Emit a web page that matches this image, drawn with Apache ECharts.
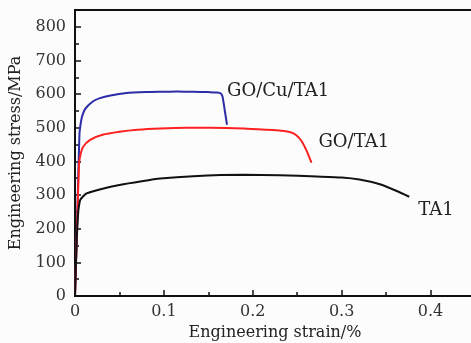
<!DOCTYPE html>
<html>
<head>
<meta charset="utf-8">
<script src="https://cdn.jsdelivr.net/npm/echarts@6/dist/echarts.min.js"></script>
<style>
  html, body { margin: 0; padding: 0; background: #fcfcfc; }
  #chart { width: 471px; height: 343px; }
</style>
</head>
<body>
<div id="chart"></div>
<script>
// strain (%) and stress (MPa)
var cuStrain = [0, 0.0026, 0.005, 0.007, 0.009, 0.012, 0.02, 0.028, 0.04, 0.058, 0.08, 0.096, 0.115, 0.133, 0.15, 0.16, 0.164, 0.166, 0.168, 0.171];
var cuStress = [0, 247, 480, 522, 542, 558, 578, 588, 596, 603, 606, 607, 608, 607, 606, 605, 602, 592, 560, 509];

var goStrain = [0, 0.0025, 0.0045, 0.006, 0.009, 0.017, 0.031, 0.05, 0.07, 0.096, 0.125, 0.152, 0.19, 0.216, 0.232, 0.242, 0.249, 0.255, 0.261, 0.266];
var goStress = [0, 220, 390, 418, 443, 464, 479, 488, 494, 498, 500, 500, 498, 494, 491, 487, 478, 460, 429, 396];

var taStrain = [0, 0.002, 0.0035, 0.0045, 0.006, 0.013, 0.031, 0.05, 0.075, 0.096, 0.133, 0.189, 0.23, 0.272, 0.3, 0.32, 0.343, 0.362, 0.376];
var taStress = [0, 170, 245, 268, 286, 305, 319, 330, 341, 349, 356, 360, 359, 355, 352, 346, 332, 312, 295];

var names = ['GO/Cu/TA1', 'GO/TA1', 'TA1'];
var colors = ['#2c2ca6', '#ff2020', '#111111'];

function pairs(xs, ys) {
  return xs.map(function (x, i) { return [x, ys[i]]; });
}

var font = 'DejaVu Serif';
var dom = document.getElementById('chart');
var myChart = echarts.init(dom, null, { renderer: 'canvas' });

var labelOffsets = [[-8, -33], [-1, -20], [1, 14]];
var allData = [pairs(cuStrain, cuStress), pairs(goStrain, goStress), pairs(taStrain, taStress)];

var option = {
  backgroundColor: '#fcfcfc',
  animation: false,
  grid: {
    left: 75, top: 10, right: -4, bottom: 47,
    show: true, borderColor: '#111', borderWidth: 2,
    outerBoundsMode: 'none'
  },
  xAxis: {
    type: 'value',
    min: 0, max: 0.45, interval: 0.1,
    name: 'Engineering strain/%',
    nameLocation: 'middle',
    nameGap: 29,
    nameTextStyle: { fontFamily: font, fontSize: 16, color: '#222' },
    axisLine: { lineStyle: { color: '#111', width: 2 } },
    axisTick: { inside: true, length: 6, lineStyle: { color: '#111', width: 1.5 } },
    minorTick: { show: true, splitNumber: 2, length: 4, lineStyle: { color: '#111', width: 1.5 } },
    axisLabel: { fontFamily: font, fontSize: 16, color: '#333', margin: 8, showMaxLabel: false },
    splitLine: { show: false }
  },
  yAxis: {
    type: 'value',
    min: 0, max: 850, interval: 100,
    name: 'Engineering stress/MPa',
    nameLocation: 'middle',
    nameGap: 51,
    nameTextStyle: { fontFamily: font, fontSize: 16, color: '#222' },
    axisLine: { lineStyle: { color: '#111', width: 2 } },
    axisTick: { inside: true, length: 6, lineStyle: { color: '#111', width: 1.5 } },
    minorTick: { show: true, splitNumber: 2, length: 4, lineStyle: { color: '#111', width: 1.5 } },
    axisLabel: { fontFamily: font, fontSize: 16, color: '#333', margin: 9, showMaxLabel: false },
    splitLine: { show: false }
  },
  series: names.map(function (n, i) {
    return {
      name: n,
      type: 'line',
      data: allData[i],
      showSymbol: false,
      smooth: 0.2,
      lineStyle: { color: colors[i], width: 2 },
      itemStyle: { color: colors[i] },
      endLabel: {
        show: true,
        formatter: n,
        offset: labelOffsets[i],
        fontFamily: font,
        fontSize: 18,
        color: '#222'
      }
    };
  })
};

myChart.setOption(option);
window.addEventListener('resize', myChart.resize);
</script>
</body>
</html>
